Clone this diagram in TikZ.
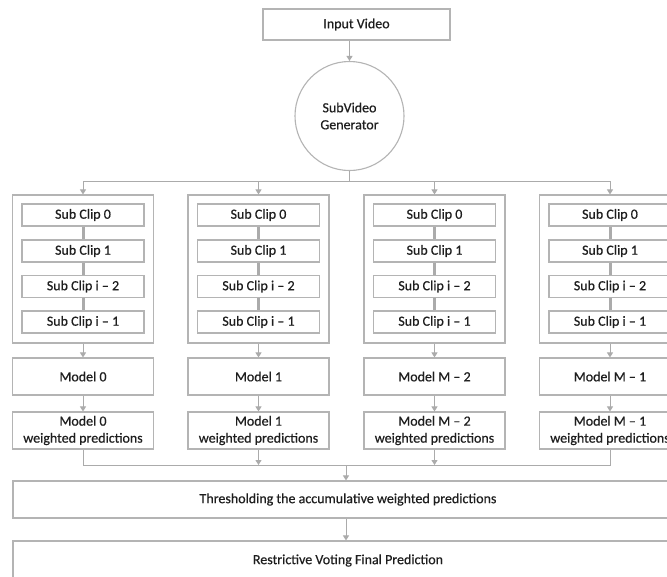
\documentclass[tikz,border=0pt]{standalone}
\usepackage{fontspec}
\setmainfont{Carlito}
\newfontfamily\dfont[FakeBold=0.5,Ligatures=TeX]{Carlito}
\usetikzlibrary{arrows.meta}
\definecolor{ln}{HTML}{ABABAB}
\definecolor{bx}{HTML}{B4B4B4}
\definecolor{tx}{HTML}{1E1E1E}
\begin{document}
\begin{tikzpicture}[x=1pt,y=-1pt,
  every node/.style={font=\dfont\fontsize{14}{17}\selectfont, text=tx},
  box/.style={draw=bx, line width=1.1pt, rectangle, inner sep=0pt, align=center},
  grp/.style={box, minimum width=141pt, minimum height=148pt},
  clip0/.style={box, minimum width=122pt, minimum height=22pt},
  modl/.style={box, minimum width=141pt, minimum height=37pt},
  arr/.style={draw=ln, line width=1pt, -{Triangle[width=6pt,length=5pt]}},
  lnk/.style={draw=ln, line width=1pt},
  thick link/.style={draw=ln, line width=3pt}]
\useasboundingbox (0,0) rectangle (667,576);
\clip (0,0) rectangle (667,576);
\fill[white] (0,0) rectangle (667,576);

\node[box, minimum width=187pt, minimum height=31pt] (in) at (356.5,24.5) {Input Video};
\node[circle, draw=bx, line width=1.1pt, minimum size=109pt, inner sep=0pt, align=center] (gen) at (349.5,116) {SubVideo\\Generator};

\coordinate (tb) at (349.5,181);
\draw[arr] (in.south -| gen.north) -- (gen.north);
\draw[lnk] (gen.south) -- (tb);

\foreach \i/\x/\m in {1/83/0, 2/258.5/1, 3/434.5/M – 2, 4/610/M – 1} {
  \node[grp] (g\i) at (\x,269) {};
  \node[clip0] (c\i a) at (\x,215) {Sub Clip 0};
  \node[clip0] (c\i b) at (\x,251) {Sub Clip 1};
  \node[clip0] (c\i c) at (\x,286.5) {Sub Clip i – 2};
  \node[clip0] (c\i d) at (\x,322) {Sub Clip i – 1};
  \draw[thick link] (c\i a.south) -- (c\i b.north);
  \draw[thick link] (c\i b.south) -- (c\i c.north);
  \draw[thick link] (c\i c.south) -- (c\i d.north);
  \node[modl] (m\i) at (\x,376.5) {Model \m};
  \node[modl] (p\i) at (\x,430.5) {Model \m\\weighted predictions};
  \draw[arr] (g\i.south) -- (m\i.north);
  \draw[arr] (m\i.south) -- (p\i.north);
  \draw[arr] (tb -| g\i.north) -- (g\i.north);
}
\draw[lnk] (tb -| g1.north) -- (tb -| g4.north);

\node[box, minimum width=670pt, minimum height=37pt] (thr) at (348,499.5) {Thresholding the accumulative weighted predictions};
\node[box, minimum width=670pt, minimum height=39pt] (fin) at (348,560.5) {Restrictive Voting Final Prediction};

\coordinate (bb) at (346,465);
\draw[lnk] (p1.south) -- (bb -| p1.south) -- (bb -| p4.south) -- (p4.south);
\draw[arr] (p2.south) -- (bb -| p2.south);
\draw[arr] (p3.south) -- (bb -| p3.south);
\draw[arr] (bb) -- (bb |- thr.north);
\draw[arr] (thr.south -| bb) -- (fin.north -| bb);
\end{tikzpicture}
\end{document}
